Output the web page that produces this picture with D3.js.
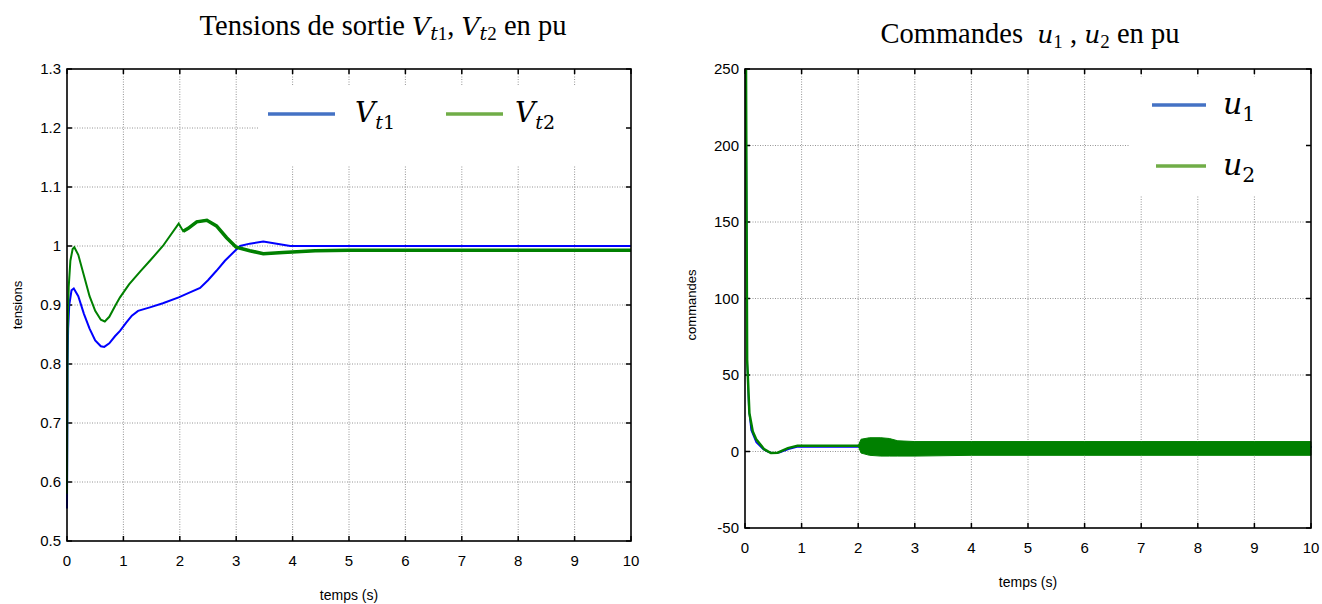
<!DOCTYPE html>
<html>
<head>
<meta charset="utf-8">
<script src="https://cdn.jsdelivr.net/npm/d3@7"></script>
<style>
  body { margin: 0; background: #fff; }
  svg { display: block; }
</style>
</head>
<body>
<svg id="chart" width="1322" height="604"></svg>
<script>
// Données
const tTicks = [0, 1, 2, 3, 4, 5, 6, 7, 8, 9, 10];
const vtTicks = [0.5, 0.6, 0.7, 0.8, 0.9, 1.0, 1.1, 1.2, 1.3];
const uTicks = [-50, 0, 50, 100, 150, 200, 250];

// Tension Vt1 (bleu)
const vt1Time = [0, 0.01, 0.02, 0.04, 0.08, 0.12, 0.2, 0.3, 0.4, 0.5, 0.6, 0.66, 0.75, 0.85, 0.94, 1.05, 1.15, 1.26, 1.47, 1.7, 1.98, 2.15, 2.36, 2.5, 2.65, 2.8, 2.98, 3.07, 3.24, 3.48, 3.72, 3.96, 5, 7, 10];
const vt1Val  = [0.555, 0.8, 0.86, 0.9, 0.925, 0.928, 0.915, 0.885, 0.86, 0.84, 0.83, 0.829, 0.835, 0.847, 0.856, 0.87, 0.882, 0.89, 0.896, 0.903, 0.913, 0.92, 0.929, 0.942, 0.958, 0.975, 0.992, 1.0, 1.004, 1.0075, 1.004, 1.0, 1.0, 1.0, 1.0];

// Tension Vt2 (vert)
const vt2Time = [0, 0.01, 0.03, 0.06, 0.1, 0.13, 0.2, 0.3, 0.4, 0.5, 0.6, 0.67, 0.75, 0.85, 0.94, 1.1, 1.3, 1.47, 1.7, 1.98, 2.06, 2.15, 2.3, 2.48, 2.65, 2.83, 3.0, 3.24, 3.48, 3.83, 4.4, 5, 7, 10];
const vt2Val  = [0.58, 0.85, 0.93, 0.975, 0.995, 0.998, 0.985, 0.95, 0.915, 0.89, 0.875, 0.872, 0.88, 0.898, 0.913, 0.935, 0.957, 0.975, 1.0, 1.038, 1.025, 1.03, 1.041, 1.0435, 1.034, 1.014, 0.998, 0.992, 0.987, 0.989, 0.992, 0.993, 0.993, 0.993];

// Commande u1 (bleu)
const u1Time = [0, 0.02, 0.05, 0.09, 0.18, 0.3, 0.4, 0.5, 0.6, 0.75, 0.9, 2.0, 10];
const u1Val  = [250, 60, 28, 14, 6, 1.5, -0.5, -1, -0.6, 1.5, 3, 3, 3];

// Commande u2 (vert)
const u2Time = [0, 0.02, 0.06, 0.12, 0.18, 0.32, 0.44, 0.56, 0.74, 0.91, 2.0];
const u2Val  = [250, 60, 25, 13, 8, 1.5, -1, -0.8, 2.2, 3.7, 3.7];

// Enveloppe de u2 après t = 2 s (oscillations)
const u2BandTime = [2.0, 2.05, 2.2, 2.4, 2.55, 2.7, 3, 4, 5, 6, 7, 8, 9, 10];
const u2BandHigh = [3.7, 8, 9, 9, 8.5, 7, 6.5, 6.5, 6.5, 6.5, 6.5, 6.5, 6.5, 6.5];
const u2BandLow  = [3.7, -1, -2.5, -3, -3, -3, -3, -2.5, -2.5, -2.5, -2.5, -2.5, -2.5, -2.5];

const svg = d3.select('#chart');

function zip(ts, vs) {
    return ts.map((t, i) => ({ t: t, v: vs[i] }));
}

/**
 * Cadre, grille, graduations et libellés d'un panneau
 */
function drawFrame(p) {
    const g = svg.append('g');
    const x = p.x, y = p.y;
    const [x0, x1] = x.range();
    const [y0, y1] = y.range();

    // Grille pointillée
    g.selectAll('.vgrid').data(tTicks.slice(1, -1)).enter().append('line')
        .attr('x1', d => x(d)).attr('x2', d => x(d))
        .attr('y1', y1).attr('y2', y0)
        .attr('stroke', '#7a7a7a').attr('stroke-width', 0.8)
        .attr('stroke-dasharray', '1,1.5');
    g.selectAll('.hgrid').data(p.yTicks.slice(1, -1)).enter().append('line')
        .attr('y1', d => y(d)).attr('y2', d => y(d))
        .attr('x1', x0).attr('x2', x1)
        .attr('stroke', '#7a7a7a').attr('stroke-width', 0.8)
        .attr('stroke-dasharray', '1,1.5');

    // Cache blanc de la légende
    g.append('rect')
        .attr('x', p.legendBox[0]).attr('y', p.legendBox[1])
        .attr('width', p.legendBox[2]).attr('height', p.legendBox[3])
        .attr('fill', '#fff');

    // Graduations intérieures
    const tk = 5;
    tTicks.forEach(d => {
        g.append('line').attr('x1', x(d)).attr('x2', x(d)).attr('y1', y0).attr('y2', y0 - tk)
            .attr('stroke', '#000').attr('stroke-width', 1.5);
        g.append('line').attr('x1', x(d)).attr('x2', x(d)).attr('y1', y1).attr('y2', y1 + tk)
            .attr('stroke', '#000').attr('stroke-width', 1.5);
    });
    p.yTicks.forEach(d => {
        g.append('line').attr('y1', y(d)).attr('y2', y(d)).attr('x1', x0).attr('x2', x0 + tk)
            .attr('stroke', '#000').attr('stroke-width', 1.5);
        g.append('line').attr('y1', y(d)).attr('y2', y(d)).attr('x1', x1).attr('x2', x1 - tk)
            .attr('stroke', '#000').attr('stroke-width', 1.5);
    });

    // Libellés des graduations
    g.selectAll('.xl').data(tTicks).enter().append('text')
        .attr('x', d => x(d)).attr('y', y0 + 25)
        .attr('text-anchor', 'middle')
        .style('font-family', 'Liberation Sans, Arial, sans-serif')
        .style('font-size', '15px')
        .text(d => d);
    g.selectAll('.yl').data(p.yTicks).enter().append('text')
        .attr('x', x0 - 6).attr('y', d => y(d) + 5)
        .attr('text-anchor', 'end')
        .style('font-family', 'Liberation Sans, Arial, sans-serif')
        .style('font-size', '15px')
        .text(d => +d.toFixed(1));

    // Titres des axes
    g.append('text')
        .attr('x', (x0 + x1) / 2).attr('y', y0 + 59)
        .attr('text-anchor', 'middle')
        .style('font-family', 'Liberation Sans, Arial, sans-serif')
        .style('font-size', '14px')
        .text('temps (s)');
    g.append('text')
        .attr('transform', `translate(${p.yLabelX},${p.yLabelY}) rotate(-90)`)
        .attr('text-anchor', 'middle')
        .style('font-family', 'Liberation Sans, Arial, sans-serif')
        .style('font-size', '13px')
        .text(p.yLabel);

    return g;
}

function drawBorder(p) {
    const [x0, x1] = p.x.range();
    const [y0, y1] = p.y.range();
    svg.append('rect')
        .attr('x', x0).attr('y', y1)
        .attr('width', x1 - x0).attr('height', y0 - y1)
        .attr('fill', 'none').attr('stroke', '#000').attr('stroke-width', 1.6);
}

function mathTitle(cx, cy, parts) {
    const txt = svg.append('text')
        .attr('x', cx).attr('y', cy)
        .attr('text-anchor', 'middle')
        .style('white-space', 'pre')
        .style('font-family', 'Liberation Serif, Times New Roman, serif')
        .style('font-size', '28.5px');
    parts.forEach(pt => {
        const s = txt.append('tspan').text(pt.s);
        if (pt.it) s.style('font-style', 'italic').style('font-family', 'DejaVu Serif, serif').style('font-size', '25px');
        if (pt.sub) s.style('font-size', '19px');
        if (pt.dy) s.attr('dy', pt.dy);
    });
}

function legendItem(x1, x2, ly, color, tx, sym, subIt, subNum, size) {
    svg.append('line')
        .attr('x1', x1).attr('x2', x2).attr('y1', ly).attr('y2', ly)
        .attr('stroke', color).attr('stroke-width', 3.5);
    const t = svg.append('text')
        .attr('x', tx).attr('y', ly + size * 0.3)
        .style('font-family', 'DejaVu Serif, serif')
        .style('font-size', size + 'px');
    t.append('tspan').style('font-style', 'italic').text(sym);
    const sub = (size * 0.68) + 'px';
    if (subIt) {
        t.append('tspan').attr('dy', size * 0.22).style('font-style', 'italic').style('font-size', sub).text(subIt);
        t.append('tspan').style('font-size', sub).text(subNum);
    } else {
        t.append('tspan').attr('dy', size * 0.22).style('font-size', sub).text(subNum);
    }
}

// ---------- Panneau gauche : tensions ----------
const left = {
    x: d3.scaleLinear().domain([0, 10]).range([67, 631]),
    y: d3.scaleLinear().domain([0.5, 1.3]).range([541, 69]),
    yTicks: vtTicks,
    yLabel: 'tensions',
    yLabelX: 22, yLabelY: 305,
    legendBox: [258, 86, 373, 80]
};
drawFrame(left);

const lineL = d3.line().x(d => left.x(d.t)).y(d => left.y(d.v));
svg.append('path').datum(zip(vt1Time, vt1Val))
    .attr('d', lineL).attr('fill', 'none').attr('stroke', '#0000ff').attr('stroke-width', 2);
svg.append('path').datum(zip(vt2Time, vt2Val))
    .attr('d', lineL).attr('fill', 'none').attr('stroke', '#008000').attr('stroke-width', 2);
// partie bruitée de Vt2
svg.append('path').datum(zip(vt2Time, vt2Val).filter(d => d.t >= 2.06))
    .attr('d', lineL).attr('fill', 'none').attr('stroke', '#008000').attr('stroke-width', 3.5);
drawBorder(left);

mathTitle(383, 35, [
    { s: 'Tensions de sortie ' },
    { s: 'V', it: true }, { s: 't', it: true, sub: true, dy: 5 }, { s: '1', sub: true },
    { s: ', ', dy: -5 },
    { s: 'V', it: true }, { s: 't', it: true, sub: true, dy: 5 }, { s: '2', sub: true },
    { s: ' en pu', dy: -5 }
]);
legendItem(268, 335, 114, '#4472c4', 355, 'V', 't', '1', 28);
legendItem(446, 503, 114, '#70ad47', 515, 'V', 't', '2', 28);

// ---------- Panneau droit : commandes ----------
const right = {
    x: d3.scaleLinear().domain([0, 10]).range([745, 1311]),
    y: d3.scaleLinear().domain([-50, 250]).range([528, 69]),
    yTicks: uTicks,
    yLabel: 'commandes',
    yLabelX: 696, yLabelY: 305,
    legendBox: [1130, 77, 181, 118]
};
drawFrame(right);

const lineR = d3.line().x(d => right.x(d.t) + 1).y(d => right.y(d.v));
svg.append('path').datum(zip(u1Time, u1Val))
    .attr('d', lineR).attr('fill', 'none').attr('stroke', '#0000ff').attr('stroke-width', 1.5);
svg.append('path').datum(zip(u2Time, u2Val))
    .attr('d', lineR).attr('fill', 'none').attr('stroke', '#008000').attr('stroke-width', 2.5);

const band = u2BandTime.map((t, i) => ({ t: t, hi: u2BandHigh[i], lo: u2BandLow[i] }));
svg.append('path').datum(band)
    .attr('d', d3.area().x(d => right.x(d.t)).y0(d => right.y(d.lo)).y1(d => right.y(d.hi)))
    .attr('fill', '#008000').attr('stroke', '#008000').attr('stroke-width', 1);
drawBorder(right);

mathTitle(1030, 43, [
    { s: 'Commandes  ' },
    { s: 'u', it: true }, { s: '1', sub: true, dy: 5 },
    { s: ' , ', dy: -5 },
    { s: 'u', it: true }, { s: '2', sub: true, dy: 5 },
    { s: ' en pu', dy: -5 }
]);
legendItem(1152, 1206, 105, '#4472c4', 1223, 'u', null, '1', 30);
legendItem(1156, 1206, 166, '#70ad47', 1223, 'u', null, '2', 30);
</script>
</body>
</html>
